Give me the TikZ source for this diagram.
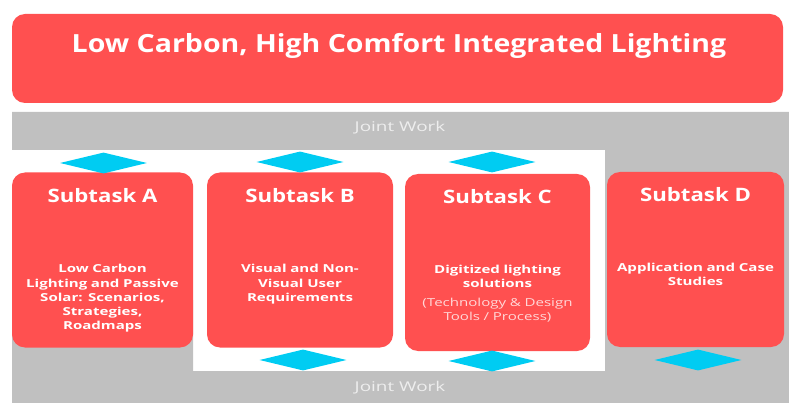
\documentclass[tikz,border=0pt]{standalone}
\usepackage{fontspec}
\setmainfont{Open Sans}
\newfontfamily\titlefont[FakeStretch=1.14]{Open Sans}
\newfontfamily\headfont[FakeStretch=1.2]{Open Sans}
\newfontfamily\bodyfont[FakeStretch=1.37]{Open Sans}
\newfontfamily\jointfont[FakeStretch=1.4]{Open Sans}
\usetikzlibrary{shapes.geometric, positioning}

\definecolor{taskred}{HTML}{FF5050}
\definecolor{jointgray}{HTML}{C0C0C0}
\definecolor{linkcyan}{HTML}{00CCF2}
\definecolor{jointtext}{HTML}{EEEEEE}
\definecolor{notepink}{HTML}{FFD8D8}

\begin{document}
\begin{tikzpicture}[x=1pt, y=-1pt, node distance = 10pt]
      \tikzstyle{subtask} = [
        rectangle,
        fill=taskred,
        rounded corners=13pt,
        inner sep=0pt,
        minimum height=175pt
      ]

      \tikzstyle{heading} = [
        text=white,
        font=\headfont\bfseries\fontsize{18.5}{22}\selectfont,
        inner sep=0pt
      ]

      \tikzstyle{body} = [
        text=white,
        font=\bodyfont\bfseries\fontsize{11}{14.2}\selectfont,
        text width=180pt,
        align=center,
        inner sep=0pt
      ]

      \tikzstyle{note} = [
        body,
        text=notepink,
        font=\bodyfont\fontsize{11}{14.2}\selectfont
      ]

      \tikzstyle{link} = [
        diamond,
        fill=linkcyan,
        minimum width=87pt,
        minimum height=21pt,
        inner sep=0pt
      ]

      \tikzstyle{joint} = [
        text=jointtext,
        font=\jointfont\fontsize{13.5}{15}\selectfont,
        inner sep=0pt
      ]

      \useasboundingbox (0,0) rectangle (789,403);

      \fill[jointgray] (12,112) -- (789,112) -- (789,403) -- (12,403)
        -- (12,300) -- (193,300) -- (193,371) -- (605,371) -- (605,150)
        -- (12,150) -- cycle;

      \node[subtask, minimum width=771pt, minimum height=89pt] (main) at (397.5,58.5) {};
      \node[heading, font=\titlefont\bfseries\fontsize{25}{30}\selectfont] (title) at (399,46)
        {Low Carbon, High Comfort Integrated Lighting};

      \node[joint] (joint top) at (400,128) {Joint Work};
      \node[joint] (joint bottom) at (400,388) {Joint Work};

      \node[subtask, minimum width=181pt] (a) at (102.5,260) {};
      \node[subtask, minimum width=186pt] (b) at (300,260) {};
      \node[subtask, minimum width=185pt, minimum height=177pt] (c) at (497.5,262.5) {};
      \node[subtask, minimum width=177pt] (d) at (695.5,259.5) {};

      \node[heading, below=16pt of a.north] (a head) {Subtask A};
      \node[heading, below=16pt of b.north] (b head) {Subtask B};
      \node[heading, below=15pt of c.north] (c head) {Subtask C};
      \node[heading, below=15pt of d.north] (d head) {Subtask D};

      \node[body, below=92pt of a.north] (a body)
        {Low Carbon\\Lighting and Passive\\Solar: Scenarios,\\Strategies,\\Roadmaps};
      \node[body, below=92pt of b.north] (b body)
        {Visual and Non-\\Visual User\\Requirements};
      \node[body, below=91pt of c.north] (c body)
        {Digitized lighting\\solutions};
      \node[note, below=10pt of c body] (c note)
        {(Technology \& Design\\Tools / Process)};
      \node[body, below=91pt of d.north] (d body)
        {Application and Case\\Studies};

      \node[link] (a up) at (103.5,163) {};
      \node[link] (b up) at (300,162) {};
      \node[link] (c up) at (492,162) {};
      \node[link] (b down) at (303,360) {};
      \node[link] (c down) at (492,361) {};
      \node[link] (d down) at (698,360) {};
    \end{tikzpicture}
\end{document}
